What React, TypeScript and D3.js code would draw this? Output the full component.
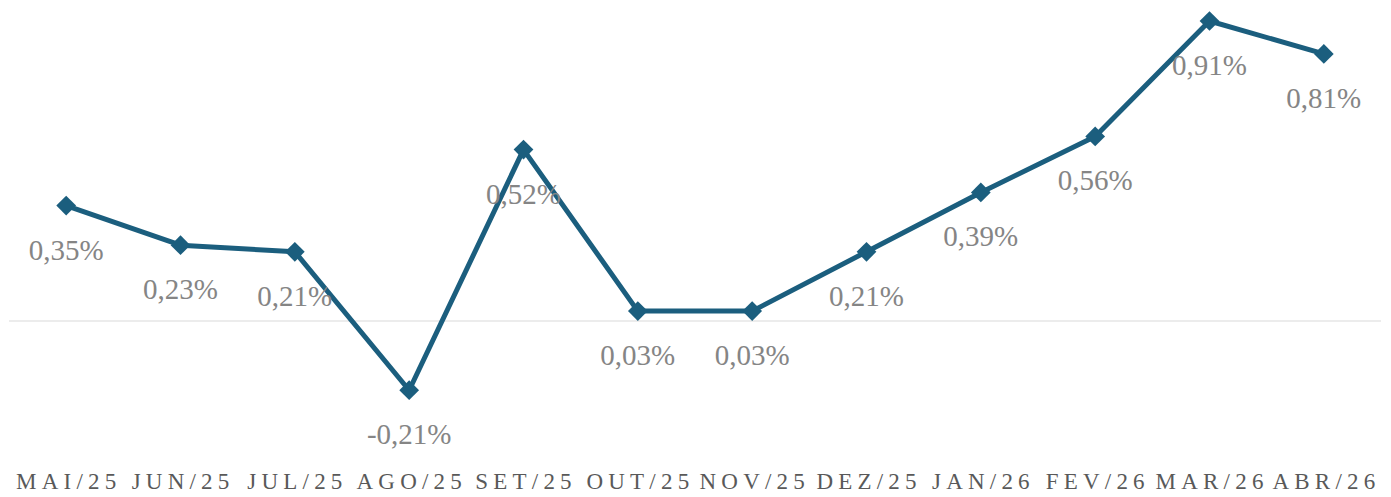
import React, { useEffect, useRef } from "react";
import * as d3 from "d3";

const months = ["MAI/25", "JUN/25", "JUL/25", "AGO/25", "SET/25", "OUT/25", "NOV/25", "DEZ/25", "JAN/26", "FEV/26", "MAR/26", "ABR/26"];
const values = [0.35, 0.23, 0.21, -0.21, 0.52, 0.03, 0.03, 0.21, 0.39, 0.56, 0.91, 0.81];

const width = 1391,
  height = 497;
const lineColor = "#1b5e7e";

const fmt = (v: number) => v.toFixed(2).replace(".", ",") + "%";

export default function App() {
  const svgRef = useRef<SVGSVGElement>(null);

  useEffect(() => {
    const svg = d3.select(svgRef.current);
    svg.selectAll("*").remove();

    const data = months.map((m, i) => ({ m, v: values[i] }));

    const xScale = d3.scaleBand().domain(months).range([9, 1381]).padding(0);
    const cx = (m: string) => (xScale(m) as number) + xScale.bandwidth() / 2;
    // 0 at y=321, top value near top
    const yScale = d3.scaleLinear().domain([0, 0.91]).range([321, 21]);

    // zero line
    svg
      .append("line")
      .attr("x1", 9)
      .attr("x2", 1381)
      .attr("y1", yScale(0))
      .attr("y2", yScale(0))
      .attr("stroke", "#d9d9d9")
      .attr("stroke-width", 1.2);

    const line = d3
      .line<{ m: string; v: number }>()
      .x((d) => cx(d.m))
      .y((d) => yScale(d.v));

    svg
      .append("path")
      .datum(data)
      .attr("d", line)
      .attr("fill", "none")
      .attr("stroke", lineColor)
      .attr("stroke-width", 5)
      .attr("stroke-linejoin", "round");

    const sym = d3.symbol().type(d3.symbolSquare).size(195);
    svg
      .selectAll("path.pt")
      .data(data)
      .enter()
      .append("path")
      .attr("class", "pt")
      .attr("d", sym)
      .attr("transform", (d) => `translate(${cx(d.m)},${yScale(d.v)}) rotate(45)`)
      .attr("fill", lineColor);

    // value labels
    svg
      .selectAll("text.lbl")
      .data(data)
      .enter()
      .append("text")
      .attr("class", "lbl")
      .attr("x", (d) => cx(d.m))
      .attr("y", (d) => yScale(d.v) + 54)
      .attr("text-anchor", "middle")
      .attr("font-family", "'Liberation Serif', 'Times New Roman', serif")
      .attr("font-size", 29)
      .attr("fill", "#858585")
      .text((d) => fmt(d.v));

    // category labels
    svg
      .selectAll("text.cat")
      .data(months)
      .enter()
      .append("text")
      .attr("class", "cat")
      .attr("x", (d) => cx(d) + 2.6)
      .attr("y", 489)
      .attr("text-anchor", "middle")
      .attr("font-family", "'Liberation Serif', 'Times New Roman', serif")
      .attr("font-size", 23)
      .attr("letter-spacing", 5.2)
      .attr("fill", "#595959")
      .text((d) => d);
  }, []);

  return (
    <svg
      ref={svgRef}
      width={width}
      height={height}
      style={{ position: "absolute", left: 0, top: 0, background: "#fff" }}
    ></svg>
  );
}
